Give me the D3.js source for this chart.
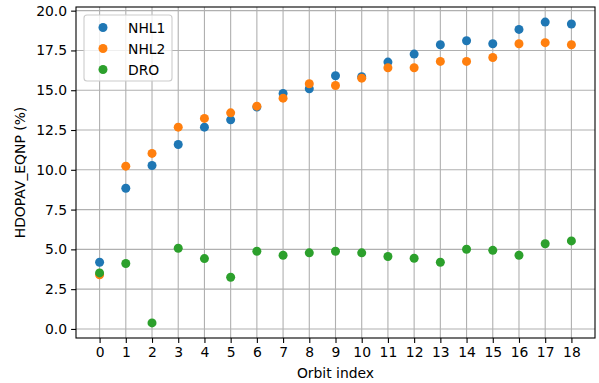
<!DOCTYPE html>
<html>
<head>
<meta charset="utf-8">
<script src="https://cdn.jsdelivr.net/npm/d3@7"></script>
<style>
body { margin: 0; background: #fff; }
text { font-family: "DejaVu Sans", sans-serif; }
</style>
</head>
<body>
<svg width="599" height="383"></svg>
<script>
var WIDTH = 599
var HEIGHT = 383

var orbits = d3.range(0, 19);
var nhl1 = [4.19, 8.84, 10.27, 11.59, 12.68, 13.14, 13.94, 14.8, 15.09, 15.91, 15.85, 16.77, 17.27, 17.86, 18.11, 17.92, 18.82, 19.28, 19.16];
var nhl2 = [3.40, 10.23, 11.03, 12.68, 13.23, 13.58, 14.0, 14.5, 15.41, 15.3, 15.76, 16.41, 16.41, 16.81, 16.81, 17.06, 17.92, 17.99, 17.86];
var dro = [3.52, 4.11, 0.38, 5.07, 4.42, 3.25, 4.88, 4.63, 4.78, 4.88, 4.78, 4.55, 4.44, 4.19, 5.01, 4.94, 4.63, 5.35, 5.53];
var seriesNames = ["NHL1", "NHL2", "DRO"];
var seriesColors = ["#1f77b4", "#ff7f0e", "#2ca02c"];
var yTicks = [0, 2.5, 5, 7.5, 10, 12.5, 15, 17.5, 20];

var margin = { left: 76, right: 4, top: 7, bottom: 45 };

var svg = d3.select("svg");

var x = d3.scaleLinear()
    .domain([-0.9, 18.9])
    .range([margin.left, WIDTH - margin.right]);

var y = d3.scaleLinear()
    .domain([-0.57, 20.23])
    .range([HEIGHT - margin.bottom, margin.top]);

// grid
var grid = svg.append("g");
grid.selectAll(".gx")
    .data(orbits)
    .enter().append("line")
    .attr("x1", function (d) { return x(d); })
    .attr("x2", function (d) { return x(d); })
    .attr("y1", y.range()[0])
    .attr("y2", y.range()[1])
    .style("stroke", "#b0b0b0")
    .style("stroke-width", 1.1);
grid.selectAll(".gy")
    .data(yTicks)
    .enter().append("line")
    .attr("x1", x.range()[0])
    .attr("x2", x.range()[1])
    .attr("y1", function (d) { return y(d); })
    .attr("y2", function (d) { return y(d); })
    .style("stroke", "#b0b0b0")
    .style("stroke-width", 1.1);

// axes
var xAxis = d3.axisBottom(x).tickValues(orbits).tickSize(4.9).tickPadding(4).tickFormat(d3.format("d"));
var yAxis = d3.axisLeft(y).tickValues(yTicks).tickSize(4.9).tickPadding(4).tickFormat(d3.format(".1f"));

var gx = svg.append("g")
    .attr("transform", "translate(0," + y.range()[0] + ")")
    .call(xAxis);
var gy = svg.append("g")
    .attr("transform", "translate(" + x.range()[0] + ",0)")
    .call(yAxis);

[gx, gy].forEach(function (g) {
    g.select(".domain").remove();
    g.selectAll(".tick line").style("stroke", "#000").style("stroke-width", 1.1);
    g.selectAll(".tick text")
        .style("font-size", "13.9px")
        .style("font-family", "DejaVu Sans")
        .style("fill", "#000");
});

// frame
svg.append("rect")
    .attr("x", x.range()[0])
    .attr("y", y.range()[1])
    .attr("width", x.range()[1] - x.range()[0])
    .attr("height", y.range()[0] - y.range()[1])
    .style("fill", "none")
    .style("stroke", "#000")
    .style("stroke-width", 1.1);

// points
var allSeries = [nhl1, nhl2, dro];
allSeries.forEach(function (vals, i) {
    svg.append("g").selectAll("circle")
        .data(vals)
        .enter().append("circle")
        .attr("cx", function (d, j) { return x(orbits[j]); })
        .attr("cy", function (d) { return y(d); })
        .attr("r", 4.5)
        .style("fill", seriesColors[i]);
});

// labels
svg.append("text")
    .attr("x", (x.range()[0] + x.range()[1]) / 2)
    .attr("y", 378)
    .attr("text-anchor", "middle")
    .style("font-size", "13.9px")
    .text("Orbit index");

svg.append("text")
    .attr("transform", "translate(25," + (y.range()[0] + y.range()[1]) / 2 + ") rotate(-90)")
    .attr("text-anchor", "middle")
    .style("font-size", "13.9px")
    .text("HDOPAV_EQNP (%)");

// legend
var legend = svg.append("g");
legend.append("rect")
    .attr("x", 84)
    .attr("y", 15)
    .attr("width", 88)
    .attr("height", 66)
    .attr("rx", 3)
    .style("fill", "#fff")
    .style("fill-opacity", 0.8)
    .style("stroke", "#cccccc")
    .style("stroke-width", 1.1);
seriesNames.forEach(function (name, i) {
    legend.append("circle")
        .attr("cx", 103)
        .attr("cy", 27.5 + i * 21)
        .attr("r", 4.5)
        .style("fill", seriesColors[i]);
    legend.append("text")
        .attr("x", 128)
        .attr("y", 27.5 + i * 21)
        .attr("dy", "0.36em")
        .style("font-size", "13.9px")
        .text(name);
});
</script>
</body>
</html>
